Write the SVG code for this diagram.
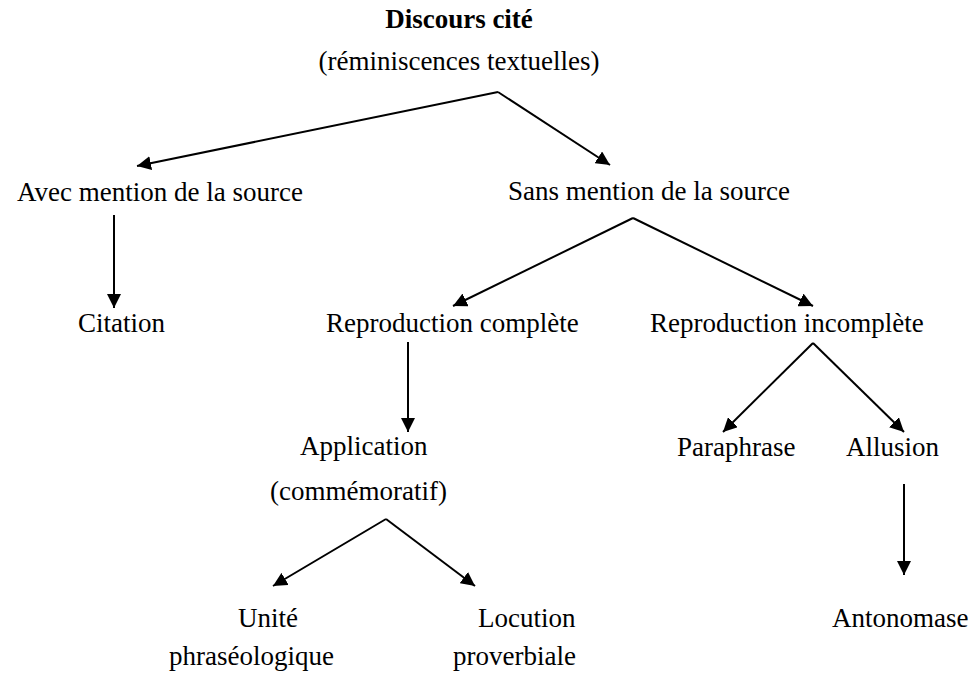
<svg xmlns="http://www.w3.org/2000/svg" width="974" height="676" viewBox="0 0 974 676">
<defs>
<style>
text{font-family:"Liberation Serif","Times New Roman",serif;font-size:27px;fill:#000}
.b{font-weight:bold}
.c{stroke:#000;stroke-width:2;fill:none;marker-end:url(#ah)}
.l{stroke:#000;stroke-width:2;fill:none}
</style>
<marker id="ah" viewBox="0 0 14 14" refX="14" refY="7" markerWidth="14" markerHeight="14" markerUnits="userSpaceOnUse" orient="auto">
<path d="M0,0 L14,7 L0,14 z" fill="#000"/>
</marker>
</defs>
<rect width="974" height="676" fill="#fff"/>
<g id="connectors">
<line class="c" x1="498" y1="92" x2="137" y2="166"/>
<line class="c" x1="498" y1="92" x2="610" y2="165"/>
<line class="c" x1="114" y1="215" x2="114" y2="308"/>
<line class="c" x1="633" y1="218" x2="453" y2="306"/>
<line class="c" x1="633" y1="218" x2="813" y2="306"/>
<line class="c" x1="408" y1="342" x2="408" y2="432"/>
<line class="c" x1="813" y1="343" x2="723" y2="432"/>
<line class="c" x1="813" y1="343" x2="904" y2="432"/>
<line class="c" x1="904" y1="484" x2="904" y2="575"/>
<line class="c" x1="386" y1="519" x2="273" y2="586"/>
<line class="c" x1="386" y1="519" x2="475" y2="586"/>
</g>
<g id="root">
<text class="b" x="459" y="28" text-anchor="middle">Discours cité</text>
<text x="459" y="70" text-anchor="middle">(réminiscences textuelles)</text>
</g>
<g id="avec"><text x="17" y="201">Avec mention de la source</text></g>
<g id="sans"><text x="508" y="200">Sans mention de la source</text></g>
<g id="citation"><text x="78" y="332">Citation</text></g>
<g id="repro-complete"><text x="326" y="332">Reproduction complète</text></g>
<g id="repro-incomplete"><text x="650" y="332">Reproduction incomplète</text></g>
<g id="application">
<text x="300" y="455">Application</text>
<text x="270" y="500">(commémoratif)</text>
</g>
<g id="paraphrase"><text x="677" y="456">Paraphrase</text></g>
<g id="allusion"><text x="846" y="456">Allusion</text></g>
<g id="unite">
<text x="238" y="627">Unité</text>
<text x="169" y="665">phraséologique</text>
</g>
<g id="locution">
<text x="478" y="627">Locution</text>
<text x="453" y="665">proverbiale</text>
</g>
<g id="antonomase"><text x="832" y="627">Antonomase</text></g>
</svg>
